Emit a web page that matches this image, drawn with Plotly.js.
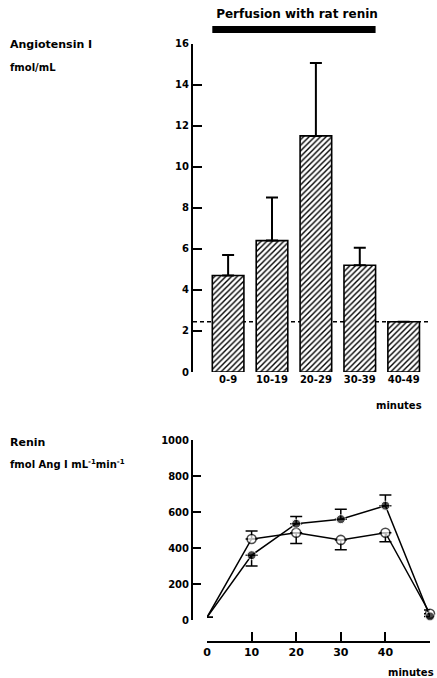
<!DOCTYPE html>
<html><head><meta charset="utf-8">
<script src="https://cdn.plot.ly/plotly-3.0.1.min.js"></script>
<style>html,body{margin:0;padding:0;background:#fff}#chart{width:437px;height:678px}</style>
</head><body><div id="chart"></div>
<script>
// --- Data: Angiotensin I (top panel) ---
const periods = ["0-9", "10-19", "20-29", "30-39", "40-49"];
const angI = [4.7, 6.4, 11.5, 5.2, 2.45];
const angIErr = [1.0, 2.1, 3.55, 0.85, 0];
const angIBaseline = 2.45;
const perfusionStart = 0;   // index of first perfused period
const perfusionEnd = 3;     // index of last perfused period

// --- Data: Renin (bottom panel) ---
const minutes = [0, 10, 20, 30, 40, 50];
const reninFilled = [15, 360, 535, 560, 635, 20];
const reninFilledErrPlus = [0, 0, 40, 55, 60, 0];
const reninFilledErrMinus = [0, 60, 0, 0, 0, 0];
const reninOpen = [15, 450, 485, 445, 485, 35];
const reninOpenErrPlus = [0, 45, 0, 0, 0, 20];
const reninOpenErrMinus = [0, 0, 60, 55, 50, 0];
const minuteTicks = [0, 10, 20, 30, 40, 50];

const W = 437, H = 678;
const px = v => v / W, py = v => 1 - v / H;
const FONT = "DejaVu Sans";
const barWidth = 0.72;

const traces = [
  {
    type: "bar", x: periods.map((_, i) => i), y: angI, width: barWidth,
    marker: { color: "white", line: { color: "black", width: 1.6 },
      pattern: { shape: "/", fgcolor: "black", bgcolor: "white", size: 4, solidity: 0.35 } },
    error_y: { type: "data", symmetric: false, array: angIErr, arrayminus: angI.map(() => 0),
      color: "black", thickness: 2, width: 6 },
    xaxis: "x", yaxis: "y", hoverinfo: "none"
  },
  {
    type: "scatter", mode: "lines+markers", x: minutes, y: reninOpen,
    line: { color: "black", width: 1.5 },
    marker: { symbol: "circle", color: "white", size: minutes.map((m, i) => i === 0 ? 0 : 9),
      line: { color: "black", width: 1.6 } },
    error_y: { type: "data", symmetric: false, array: reninOpenErrPlus, arrayminus: reninOpenErrMinus,
      color: "black", thickness: 1.5, width: 6 },
    cliponaxis: false, xaxis: "x2", yaxis: "y2", hoverinfo: "none"
  },
  {
    type: "scatter", mode: "lines+markers", x: minutes, y: reninFilled,
    line: { color: "black", width: 1.5 },
    marker: { symbol: "circle", color: "black", size: minutes.map((m, i) => i === 0 ? 0 : 9) },
    error_y: { type: "data", symmetric: false, array: reninFilledErrPlus, arrayminus: reninFilledErrMinus,
      color: "black", thickness: 1.5, width: 6 },
    cliponaxis: false, xaxis: "x2", yaxis: "y2", hoverinfo: "none"
  }
];

const tickFont = { family: FONT, size: 10, color: "black", weight: "bold" };

const layout = {
  width: W, height: H, margin: { l: 0, r: 0, t: 0, b: 0 },
  paper_bgcolor: "white", plot_bgcolor: "rgba(0,0,0,0)", showlegend: false,
  font: { family: FONT, color: "black" },
  title: { text: "Perfusion with rat renin", x: px(297), xanchor: "center", y: py(14), yanchor: "middle",
    font: { family: FONT, size: 12, color: "black", weight: "bold" } },
  xaxis: {
    domain: [px(193), px(430)], range: [-0.8, 4.6], anchor: "y",
    tickvals: periods.map((_, i) => i), ticktext: periods,
    showline: false, showgrid: false, zeroline: false, ticks: "", tickfont: tickFont
  },
  yaxis: {
    domain: [py(372), py(43.5)], range: [0, 16], anchor: "x",
    tickvals: [0, 2, 4, 6, 8, 10, 12, 14, 16],
    showline: true, linecolor: "black", linewidth: 2, ticks: "inside", ticklen: 9, tickwidth: 2,
    tickcolor: "black", showgrid: false, zeroline: false, tickfont: tickFont
  },
  xaxis2: {
    domain: [px(207), px(430)], range: [0, 50], anchor: "free", position: py(642),
    tickvals: minuteTicks, showline: true, linecolor: "black", linewidth: 2,
    ticks: "inside", ticklen: 9, tickwidth: 2, tickcolor: "black",
    showgrid: false, zeroline: false, tickfont: { family: FONT, size: 11, color: "black", weight: "bold" }
  },
  yaxis2: {
    domain: [py(620), py(440)], range: [0, 1000], anchor: "free", position: px(192),
    tickvals: [0, 200, 400, 600, 800, 1000],
    showline: true, linecolor: "black", linewidth: 2, ticks: "inside", ticklen: 8, tickwidth: 2,
    tickcolor: "black", showgrid: false, zeroline: false, tickfont: tickFont
  },
  shapes: [
    { type: "line", xref: "x", yref: "y", x0: -0.8, x1: 4.6, y0: angIBaseline, y1: angIBaseline,
      line: { color: "black", width: 1.5, dash: "4px,3px" }, layer: "below" },
    { type: "rect", xref: "x", yref: "paper",
      x0: perfusionStart - barWidth / 2, x1: perfusionEnd + barWidth / 2, y0: py(33), y1: py(26),
      fillcolor: "black", line: { width: 0 } }
  ],
  annotations: [
    { text: "Angiotensin I", xref: "paper", yref: "paper", x: px(8), y: py(45), xanchor: "left", yanchor: "middle",
      showarrow: false, font: { family: FONT, size: 11, color: "black", weight: "bold" } },
    { text: "fmol/mL", xref: "paper", yref: "paper", x: px(8), y: py(68), xanchor: "left", yanchor: "middle",
      showarrow: false, font: { family: FONT, size: 10, color: "black", weight: "bold" } },
    { text: "minutes", xref: "paper", yref: "paper", x: px(424), y: py(405), xanchor: "right", yanchor: "middle",
      showarrow: false, font: { family: FONT, size: 10, color: "black", weight: "bold" } },
    { text: "Renin", xref: "paper", yref: "paper", x: px(8), y: py(442), xanchor: "left", yanchor: "middle",
      showarrow: false, font: { family: FONT, size: 11, color: "black", weight: "bold" } },
    { text: "fmol Ang I mL<sup>-1</sup>min<sup>-1</sup>", xref: "paper", yref: "paper", x: px(8), y: py(464),
      xanchor: "left", yanchor: "middle",
      showarrow: false, font: { family: FONT, size: 10, color: "black", weight: "bold" } },
    { text: "minutes", xref: "paper", yref: "paper", x: px(436), y: py(672), xanchor: "right", yanchor: "middle",
      showarrow: false, font: { family: FONT, size: 10, color: "black", weight: "bold" } }
  ]
};

Plotly.newPlot("chart", traces, layout, { displayModeBar: false, staticPlot: true });
</script>
</body></html>
